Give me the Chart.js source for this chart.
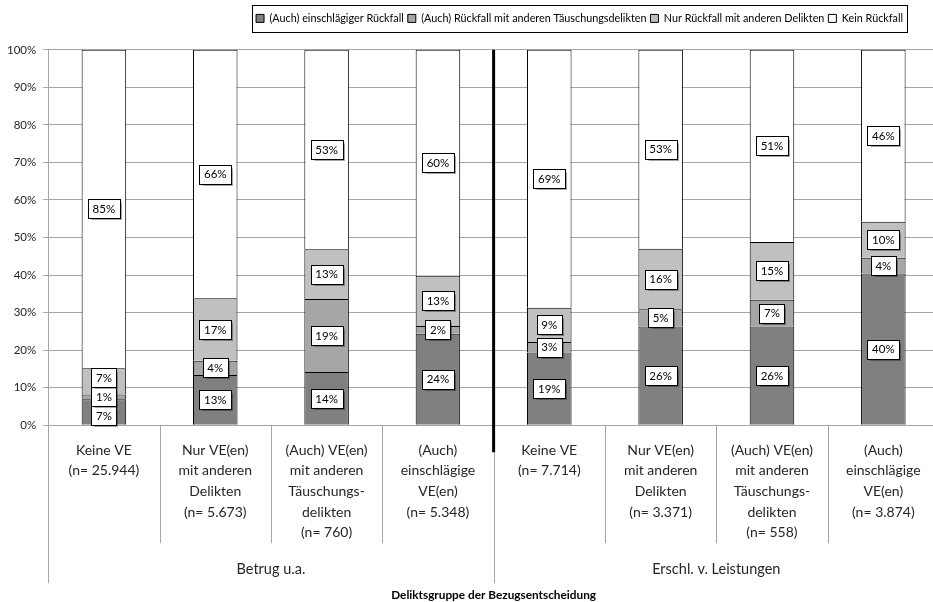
<!DOCTYPE html>
<html lang="de">
<head>
<meta charset="utf-8">
<title>Rückfall nach Vorentscheidungen</title>
<script src="https://cdn.jsdelivr.net/npm/chart.js"></script>
<style>
  html, body { margin: 0; padding: 0; background: #fff; overflow: hidden; }
  #wrap { position: relative; width: 939px; height: 602px; }
</style>
</head>
<body>
<div id="wrap"><canvas id="rueckfall"></canvas></div>
<script>
// Kategorien (Vorentscheidungen) je Deliktsgruppe
const kategorien = [
  ["Keine VE", "(n= 25.944)"],
  ["Nur VE(en)", "mit anderen", "Delikten", "(n= 5.673)"],
  ["(Auch) VE(en)", "mit anderen", "Täuschungs-", "delikten", "(n= 760)"],
  ["(Auch)", "einschlägige", "VE(en)", "(n= 5.348)"],
  ["Keine VE", "(n= 7.714)"],
  ["Nur VE(en)", "mit anderen", "Delikten", "(n= 3.371)"],
  ["(Auch) VE(en)", "mit anderen", "Täuschungs-", "delikten", "(n= 558)"],
  ["(Auch)", "einschlägige", "VE(en)", "(n= 3.874)"]
];
const gruppen = ["Betrug u.a.", "Erschl. v. Leistungen"];

// Anteile in %
const einschlaegig  = [6.9, 13.4, 14.2, 24.4, 19.4, 26.3, 26.3, 40.4];
const taeuschung    = [1.3, 3.8, 19.4, 2.0, 2.8, 4.6, 7.1, 4.2];
const andere        = [7.0, 16.6, 13.3, 13.4, 9.1, 16.1, 15.4, 9.6];
const keinRueckfall = [84.8, 66.2, 53.1, 60.2, 68.7, 53.0, 51.2, 45.8];

const schrift = "Lato";
Chart.defaults.font.family = schrift;
Chart.defaults.color = "#262626";

// senkrechte Trennstriche im Beschriftungsbereich + dicke Linie zwischen den Gruppen
const trennlinien = {
  id: "trennlinien",
  afterDraw(chart) {
    const x = chart.scales.x;
    const ctx = chart.ctx;
    const unten = chart.chartArea.bottom;
    ctx.save();
    ctx.strokeStyle = "#a6a6a6";
    ctx.lineWidth = 1;
    for (let i = 0; i <= kategorien.length; i++) {
      const px = Math.round(x.getPixelForValue(i - 0.5)) + 0.5;
      const lang = i % 4 === 0;
      ctx.beginPath();
      ctx.moveTo(px, unten);
      ctx.lineTo(px, unten + (lang ? 158 : 118));
      ctx.stroke();
    }
    const mitte = x.getPixelForValue(3.5);
    ctx.strokeStyle = "#000";
    ctx.lineWidth = 3;
    ctx.beginPath();
    ctx.moveTo(mitte, chart.chartArea.top);
    ctx.lineTo(mitte, unten + 27);
    ctx.stroke();
    ctx.restore();
  }
};

// Wertkästchen in den Segmenten, überlappende werden auseinandergeschoben
const wertLabels = {
  id: "wertLabels",
  afterDatasetsDraw(chart) {
    const ctx = chart.ctx;
    const h = 19;
    ctx.save();
    ctx.font = "11.5px " + schrift;
    ctx.textAlign = "center";
    ctx.textBaseline = "middle";
    kategorien.forEach((_, i) => {
      const kaesten = chart.data.datasets.map((ds, d) => {
        const bar = chart.getDatasetMeta(d).data[i];
        const text = Math.round(ds.data[i]) + "%";
        return { text, x: bar.x, y: (bar.y + bar.base) / 2, w: Math.round(ctx.measureText(text).width) + 9 };
      });
      for (let k = 0; k < 40; k++) {
        for (let j = 0; j < kaesten.length - 1; j++) {
          const a = kaesten[j], b = kaesten[j + 1];
          const abstand = a.y - b.y;
          if (abstand < h) {
            const d = (h - abstand) / 2;
            a.y += d;
            b.y -= d;
          }
        }
      }
      kaesten.forEach(k => {
        const l = Math.round(k.x - k.w / 2) + 0.5;
        const t = Math.round(k.y - h / 2) + 0.5;
        ctx.shadowColor = "rgba(0,0,0,0.35)";
        ctx.shadowOffsetX = 1;
        ctx.shadowOffsetY = 1;
        ctx.shadowBlur = 1;
        ctx.fillStyle = "#fff";
        ctx.fillRect(l, t, k.w, h);
        ctx.shadowColor = "transparent";
        ctx.strokeStyle = "#000";
        ctx.lineWidth = 1;
        ctx.strokeRect(l, t, k.w, h);
        ctx.fillStyle = "#000";
        ctx.fillText(k.text, k.x, k.y + 0.5);
      });
    });
    ctx.restore();
  }
};

// Legende nach oben rechts setzen und einrahmen
const legendenRahmen = {
  id: "legendenRahmen",
  afterLayout(chart) {
    const lg = chart.legend;
    lg.top -= 16;
    lg.bottom -= 16;
    lg.right -= 32;
  },
  afterDraw(chart) {
    const boxen = chart.legend.legendHitBoxes;
    if (!boxen || !boxen.length) return;
    const links = Math.min(...boxen.map(b => b.left)) - 4;
    const rechts = Math.max(...boxen.map(b => b.left + b.width)) + 4;
    const oben = Math.min(...boxen.map(b => b.top)) - 8;
    const unten = Math.max(...boxen.map(b => b.top + b.height)) + 8;
    const ctx = chart.ctx;
    ctx.save();
    ctx.strokeStyle = "#000";
    ctx.lineWidth = 1;
    ctx.strokeRect(Math.round(links) + 0.5, Math.round(oben) + 0.5, Math.round(rechts - links), Math.round(unten - oben));
    ctx.restore();
  }
};

const ctx = document.getElementById("rueckfall").getContext("2d");
const rueckfallChart = new Chart(ctx, {
  type: "bar",
  data: {
    labels: kategorien,
    datasets: [
      { label: "(Auch) einschlägiger Rückfall", data: einschlaegig, backgroundColor: "#808080" },
      { label: "(Auch) Rückfall mit anderen Täuschungsdelikten", data: taeuschung, backgroundColor: "#a6a6a6" },
      { label: "Nur Rückfall mit anderen Delikten", data: andere, backgroundColor: "#c0c0c0" },
      { label: "Kein Rückfall", data: keinRueckfall, backgroundColor: "#ffffff" }
    ].map(ds => ({ ...ds, borderColor: "#000", borderWidth: 1, barPercentage: 0.4, categoryPercentage: 1 }))
  },
  options: {
    responsive: true,
    maintainAspectRatio: false,
    animation: false,
    layout: { padding: { top: 25, left: 0, right: 0, bottom: 0 } },
    plugins: {
      legend: {
        position: "top",
        align: "end",
        labels: {
          boxWidth: 8,
          boxHeight: 8,
          padding: 4,
          color: "#000",
          font: { size: 10.8 }
        }
      },
      title: {
        display: true,
        position: "bottom",
        fullSize: false,
        text: "Deliktsgruppe der Bezugsentscheidung",
        color: "#000",
        font: { size: 11.8, weight: "bold" },
        padding: { top: 8, bottom: 0 }
      },
      tooltip: { enabled: false }
    },
    scales: {
      x: {
        stacked: true,
        grid: { display: false, drawTicks: false },
        border: { color: "#a6a6a6" },
        ticks: {
          autoSkip: false,
          maxRotation: 0,
          padding: 14.5,
          font: { size: 14, lineHeight: 1.48 }
        }
      },
      x2: {
        type: "category",
        labels: gruppen,
        position: "bottom",
        offset: true,
        grid: { display: false, drawTicks: false },
        border: { display: false },
        ticks: { padding: 2.3, font: { size: 14.5 } }
      },
      y: {
        stacked: true,
        min: 0,
        max: 100,
        grid: { color: "#a6a6a6", tickLength: 5 },
        border: { color: "#a6a6a6" },
        ticks: {
          stepSize: 10,
          padding: 7,
          font: { size: 11.5 },
          callback: (v) => v + "%"
        }
      }
    }
  },
  plugins: [trennlinien, wertLabels, legendenRahmen]
});
</script>
</body>
</html>
